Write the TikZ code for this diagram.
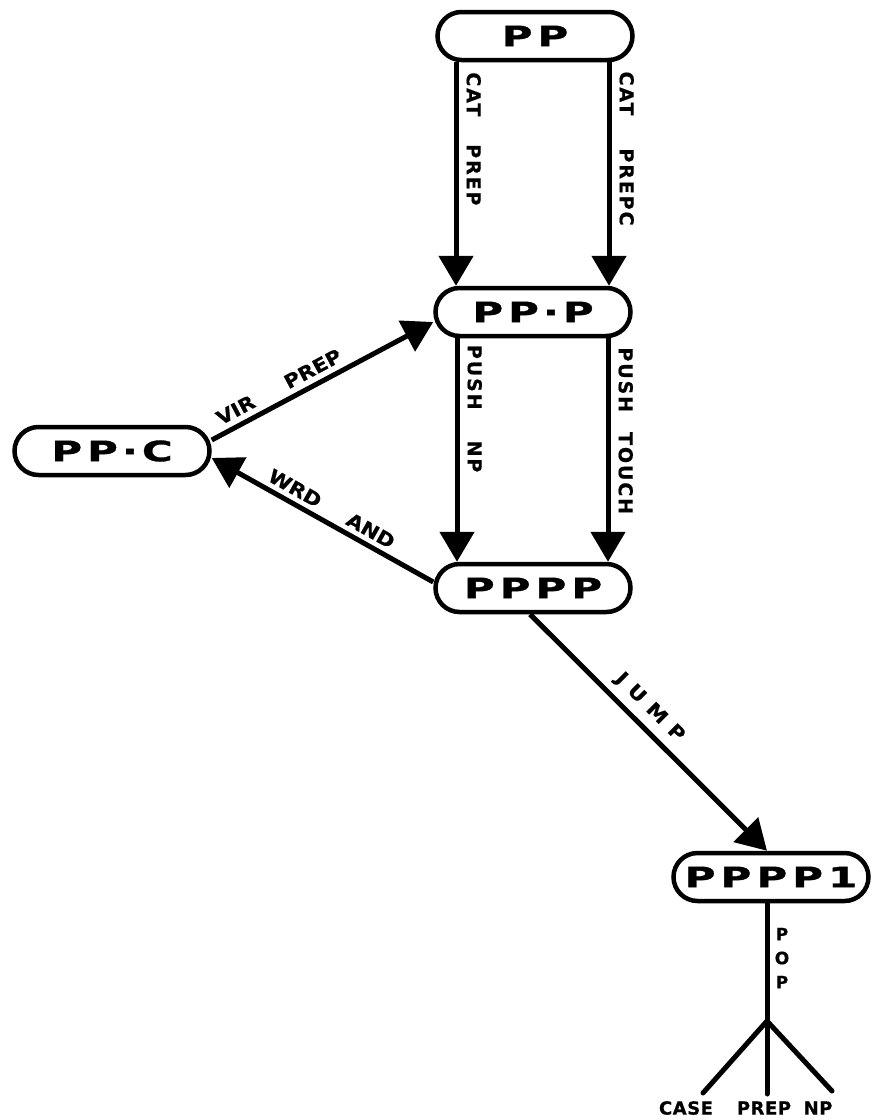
\documentclass[tikz,border=0pt]{standalone}
\usepackage{fontspec}
\usetikzlibrary{arrows.meta,shapes.misc}
\newfontfamily\nodefont{DejaVu Sans Bold}[FakeStretch=1.5,FakeBold=1.2,LetterSpace=18]
\newfontfamily\lblfont{DejaVu Sans Bold}[FakeBold=0.6,LetterSpace=10]
\newfontfamily\slfont{DejaVu Sans Bold}[FakeBold=0.6,FakeStretch=1.12]
\newfontfamily\leaffont{DejaVu Sans Bold}[FakeBold=0.6,LetterSpace=3]
\begin{document}
\begin{tikzpicture}[x=1pt,y=-1pt,
  state/.style={draw, line width=4.5pt, rounded rectangle, minimum width=195pt,
    minimum height=48pt, inner sep=0pt, font=\nodefont\fontsize{28}{28}\selectfont},
  arc/.style={line width=5pt, -{Triangle[width=34pt,length=30pt]}},
  plain/.style={line width=5pt},
  lbl/.style={font=\lblfont\fontsize{19}{19}\selectfont, inner sep=7pt},
  slbl/.style={font=\slfont\fontsize{19}{19}\selectfont, inner sep=6pt},
  leaf/.style={font=\leaffont\fontsize{18}{18}\selectfont, inner sep=0pt}
]
\useasboundingbox (0,0) rectangle (871,1120);
\fill[white] (0,0) rectangle (871,1120);

\node[state] (PP)   at (535,36)  {PP};
\node[state] (PPP)  at (533,312) {PP\hspace{4pt}·\hspace{4pt}P};
\node[state] (PPPP) at (533,588) {PPPP};
\node[state] (PPC)  at (112,451) {PP\hspace{4pt}·\hspace{4pt}C};
\node[state] (P1)   at (771,877) {PPPP1};

% PP -> PP.P
\draw[arc] ([xshift=-79pt]PP.south) -- ([xshift=-77pt]PPP.north)
  node[lbl, pos=0.343, sloped, above, inner sep=8pt] {CAT\hspace{28pt}PREP};
\draw[arc] ([xshift=74pt]PP.south) -- ([xshift=76pt]PPP.north)
  node[lbl, pos=0.386, sloped, above, inner sep=8pt] {CAT\hspace{33pt}PREPC};

% PP.P -> PPPP
\draw[arc] ([xshift=-76pt]PPP.south) -- ([xshift=-76pt]PPPP.north)
  node[lbl, pos=0.315, sloped, above, inner sep=8pt] {PUSH\hspace{31pt}NP};
\draw[arc] ([xshift=75pt]PPP.south) -- ([xshift=75pt]PPPP.north)
  node[lbl, pos=0.414, sloped, above, inner sep=8pt] {PUSH\hspace{20pt}TOUCH};

% PP.C -> PP.P
\draw[arc] ([yshift=11pt]PPC.east) -- ([yshift=-10pt]PPP.west)
  node[slbl, pos=0.336, sloped, above] {VIR\hspace{36pt}PREP};

% PPPP -> PP.C
\draw[arc] ([yshift=6pt]PPPP.west) -- ([yshift=-7pt]PPC.east)
  node[slbl, pos=0.49, sloped, above, inner sep=5pt] {WRD\hspace{32pt}AND};

% PPPP -> PPPP1
\draw[arc] ([xshift=-3pt]PPPP.south) -- ([xshift=-4pt]P1.north)
  node[slbl, pos=0.45, sloped, above, inner sep=7pt] {J\hspace{9pt}U\hspace{9pt}M\hspace{9pt}P};

% POP
\coordinate (fork) at (767,1021);
\coordinate (lcase) at (703,1093);
\coordinate (lprep) at (767,1094);
\coordinate (lnp)   at (832,1091);
\draw[plain] ([xshift=-4pt]P1.south) -- (fork);
\draw[plain, line cap=round] (fork) -- (lcase);
\draw[plain, line cap=round] (fork) -- (lprep);
\draw[plain, line cap=round] (fork) -- (lnp);
\node[align=center, inner sep=0pt, font=\lblfont\fontsize{17}{24}\selectfont] (pop) at (782,958) {P\\O\\P};

\node[leaf] (case) at (686,1108) {CASE};
\node[leaf] (prep) at (764,1108) {PREP};
\node[leaf] (np)   at (818,1108) {NP};
\end{tikzpicture}
\end{document}
